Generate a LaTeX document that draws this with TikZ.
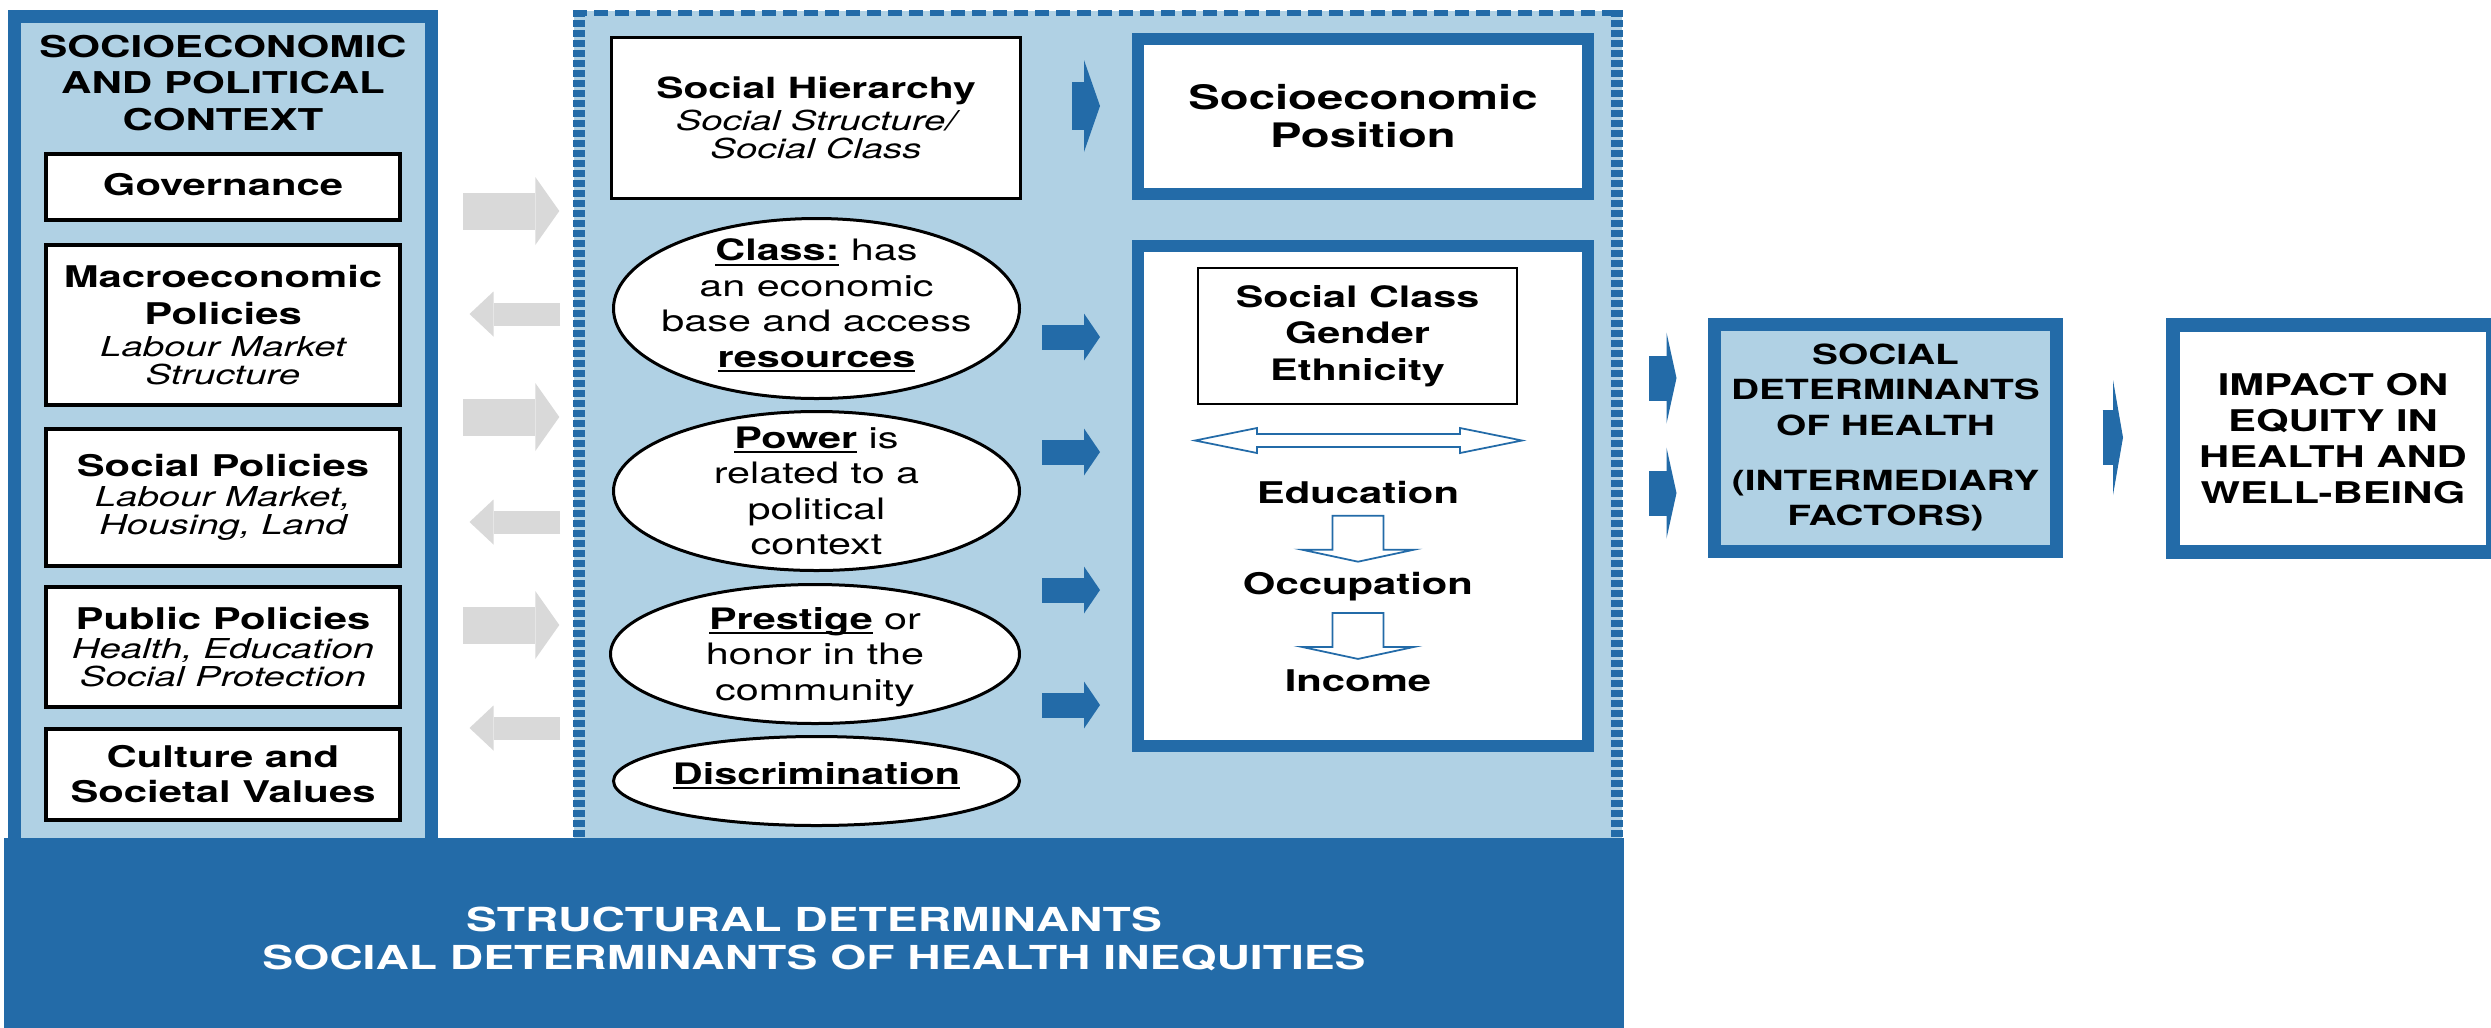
\documentclass[tikz,border=0pt]{standalone}
\usepackage{fontspec}
\setmainfont[FakeStretch=1.4]{TeX Gyre Heros}
\usetikzlibrary{shapes,arrows.meta,positioning,calc}

\definecolor{sdblue}{RGB}{35,107,168}
\definecolor{sdlight}{RGB}{176,209,228}
\definecolor{sdgray}{RGB}{217,217,217}

% italic second lines and underlined key words
\newcommand{\itx}[1]{{\fontsize{7.8}{8}\selectfont\mdseries\itshape #1}}
\newcommand{\undl}[1]{\setbox0=\hbox{\bfseries #1}\rlap{\rule[-1.4pt]{\wd0}{0.6pt}}\box0\relax}

\begin{document}
\begin{tikzpicture}[
    panel/.style={rectangle, draw=sdblue, line width=0.13cm, fill=sdlight, inner sep=0pt},
    ctxbox/.style={rectangle, draw=black, line width=0.04cm, fill=white,
                   minimum width=3.54cm, align=center, inner sep=0pt,
                   font=\fontsize{8.5}{10.4}\selectfont\bfseries},
    posbox/.style={rectangle, draw=sdblue, line width=0.12cm, fill=white,
                   align=center, inner sep=0pt},
    oval/.style={ellipse, draw=black, line width=0.03cm, fill=white,
                 minimum width=4.06cm, inner sep=0pt},
    ovaltext/.style={align=center, inner sep=0pt, font=\fontsize{8.4}{10.1}\selectfont},
    stepline/.style={anchor=base, font=\fontsize{8.5}{10}\selectfont\bfseries},
    vdash/.style={draw=sdblue, line width=0.12cm, dash pattern=on 0.07cm off 0.03cm},
    hdash/.style={draw=sdblue, line width=0.06cm, dash pattern=on 0.14cm off 0.07cm},
    hollow/.style={draw=sdblue, line width=0.5pt, fill=white},
    grayR/.style={sdgray, line width=0.37cm,
                  -{Triangle[length=0.24cm, width=0.68cm, line width=0pt]}, shorten >=0.14cm},
    grayL/.style={sdgray, line width=0.23cm,
                  -{Triangle[length=0.24cm, width=0.45cm, line width=0pt]}, shorten >=0.315cm},
    bluearr/.style={sdblue, line width=0.25cm,
                    -{Triangle[length=0.16cm, width=0.47cm, line width=0pt]}, shorten >=0.32cm},
    finarr/.style={sdblue, line width=0.48cm,
                   -{Triangle[length=0.16cm, width=0.92cm, line width=0pt]}, shorten >=0.32cm},
    intarr/.style={sdblue, line width=0.45cm,
                   -{Triangle[length=0.10cm, width=0.91cm, line width=0pt]}, shorten >=0.315cm},
    imparr/.style={sdblue, line width=0.55cm,
                   -{Triangle[length=0.10cm, width=1.15cm, line width=0pt]},
                   shorten <=0.395cm, shorten >=0.43cm}
]

\useasboundingbox (0,0) rectangle (24.91,-10.27);
\fill[white] (0,0) rectangle (24.91,-10.27);

% Context column
\node[panel, minimum width=4.17cm, minimum height=8.40cm] (ctx) at (2.23,-4.365) {};

% Structural panel, dotted frame
\node[rectangle, fill=sdlight, minimum width=10.48cm, minimum height=8.27cm, inner sep=0pt] (mid) at (10.98,-4.245) {};
\draw[vdash] ([xshift=0.06cm]mid.north west) -- ([xshift=0.06cm]mid.south west);
\draw[vdash] ([xshift=-0.06cm]mid.north east) -- ([xshift=-0.06cm]mid.south east);
\draw[hdash] ([yshift=-0.03cm]mid.north west) -- ([yshift=-0.03cm]mid.north east);

% Bottom band
\node[rectangle, fill=sdblue, minimum width=16.20cm, minimum height=2.02cm, inner sep=0pt,
      text=white, align=center, font=\fontsize{9.4}{10.8}\selectfont\bfseries] (band) at (8.14,-9.39)
      {STRUCTURAL DETERMINANTS\\SOCIAL DETERMINANTS OF HEALTH INEQUITIES};

% Context items
\node[align=center, inner sep=0pt, font=\fontsize{8.55}{10.3}\selectfont\bfseries] (ctxtitle) at (2.23,-0.83)
      {SOCIOECONOMIC\\AND POLITICAL\\CONTEXT};
\node[ctxbox, minimum height=0.66cm] (gov) at (2.23,-1.87) {\raisebox{0.05cm}{Governance}};
\node[ctxbox, minimum height=1.60cm] (macro) at (2.23,-3.25)
      {Macroeconomic\\Policies\\[-1.3pt]\itx{Labour Market}\\[-2.4pt]\itx{Structure}};
\node[ctxbox, minimum height=1.37cm] (socpol) at (2.23,-4.975)
      {Social Policies\\[-1.9pt]\itx{Labour Market,}\\[-2.4pt]\itx{Housing, Land}};
\node[ctxbox, minimum height=1.20cm] (pubpol) at (2.23,-6.47)
      {Public Policies\\[-2.2pt]\itx{Health, Education}\\[-2.4pt]\itx{Social Protection}};
\node[ctxbox, minimum height=0.91cm] (culture) at (2.23,-7.745)
      {Culture and\\[-0.4pt]Societal Values};

% Hierarchy and its dimensions
\node[rectangle, draw=black, line width=0.03cm, fill=white, minimum width=4.09cm, minimum height=1.61cm,
      align=center, inner sep=0pt, font=\fontsize{8.3}{10.4}\selectfont\bfseries] (hier) at (8.16,-1.18)
      {Social Hierarchy\\[-1.3pt]\itx{Social Structure/}\\[-2.4pt]\itx{Social Class}};

\node[oval, minimum height=1.80cm] (cls) at (8.165,-3.085) {};
\node[ovaltext] (clstxt) at ([yshift=0.03cm]cls) {\undl{Class:} has\\an economic\\base and access\\\undl{resources}};
\node[oval, minimum height=1.59cm] (pow) at (8.165,-4.91) {};
\node[ovaltext] (powtxt) at (pow) {\undl{Power} is\\related to a\\political\\context};
\node[oval, minimum width=4.09cm, minimum height=1.39cm] (pres) at (8.15,-6.54) {};
\node[ovaltext] (prestxt) at ([yshift=-0.03cm]pres) {\undl{Prestige} or\\honor in the\\community};
\node[oval, minimum height=0.89cm] (disc) at (8.165,-7.81) {};
\node[ovaltext] (disctxt) at ([yshift=0.05cm]disc) {\undl{Discrimination}};

% Position boxes
\node[posbox, minimum width=4.50cm, minimum height=1.55cm,
      font=\fontsize{9.6}{10.8}\selectfont\bfseries] (sep) at (13.63,-1.165) {Socioeconomic\\Position};
\node[posbox, minimum width=4.50cm, minimum height=5.00cm] (ses) at (13.63,-4.96) {};
\node[rectangle, draw=black, line width=0.02cm, fill=white, minimum width=3.19cm, minimum height=1.36cm,
      align=center, inner sep=0pt, font=\fontsize{8.4}{10.4}\selectfont\bfseries] (cge) at (13.575,-3.36)
      {Social Class\\Gender\\Ethnicity};
\node[stepline] (edu) at (13.58,-5.03) {Education};
\node[stepline] (occ) at (13.58,-5.94) {Occupation};
\node[stepline] (inc) at (13.58,-6.91) {Income};

% Hollow arrows inside the position box
\coordinate (lr) at (11.95,-4.405);
\draw[hollow] (lr) -- ++(0.62,0.125) -- ++(0,-0.06) -- ++(2.03,0) -- ++(0,0.06) -- ++(0.62,-0.125)
      -- ++(-0.62,-0.125) -- ++(0,0.06) -- ++(-2.03,0) -- ++(0,-0.06) -- cycle;
\draw[hollow] ([xshift=-0.255cm]edu.south) -- ++(0,-0.34) -- ++(-0.305,0) -- ++(0.56,-0.12)
      -- ++(0.56,0.12) -- ++(-0.305,0) -- ++(0,0.34) -- cycle;
\draw[hollow] ([xshift=-0.255cm]occ.south) -- ++(0,-0.34) -- ++(-0.305,0) -- ++(0.56,-0.12)
      -- ++(0.56,0.12) -- ++(-0.305,0) -- ++(0,0.34) -- cycle;

% Intermediary and impact
\node[posbox, line width=0.13cm, fill=sdlight, minimum width=3.42cm, minimum height=2.27cm,
      font=\fontsize{7.9}{10.1}\selectfont\bfseries] (int) at (18.855,-4.375)
      {SOCIAL\\DETERMINANTS\\OF HEALTH\\[5.5pt](INTERMEDIARY\\FACTORS)};
\node[posbox, line width=0.14cm, minimum width=3.20cm, minimum height=2.27cm,
      font=\fontsize{8.5}{10.3}\selectfont\bfseries] (imp) at (23.33,-4.385)
      {IMPACT ON\\EQUITY IN\\HEALTH AND\\WELL-BEING};

% Grey arrows between context and structure
\coordinate (g1) at (4.63,-2.11);
\coordinate (g2) at (5.60,-3.14);
\coordinate (g3) at (4.63,-4.17);
\coordinate (g4) at (5.60,-5.22);
\coordinate (g5) at (4.63,-6.25);
\coordinate (g6) at (5.60,-7.28);
\draw[grayR] (g1) -- (g1 -| mid.west);
\draw[grayL] (g2) -- (g2 -| ctx.east);
\draw[grayR] (g3) -- (g3 -| mid.west);
\draw[grayL] (g4) -- (g4 -| ctx.east);
\draw[grayR] (g5) -- (g5 -| mid.west);
\draw[grayL] (g6) -- (g6 -| ctx.east);

% Blue arrows
\coordinate (f1) at (10.72,-1.06);
\draw[finarr] (f1) -- (f1 -| sep.west);

\coordinate (b1) at (10.42,-3.37);
\coordinate (b2) at (10.42,-4.52);
\coordinate (b3) at (10.42,-5.90);
\coordinate (b4) at (10.42,-7.05);
\draw[bluearr] (b1) -- (b1 -| ses.west);
\draw[bluearr] (b2) -- (b2 -| ses.west);
\draw[bluearr] (b3) -- (b3 -| ses.west);
\draw[bluearr] (b4) -- (b4 -| ses.west);

\coordinate (i1) at (16.49,-3.78);
\coordinate (i2) at (16.49,-4.93);
\draw[intarr] (i1) -- (i1 -| int.west);
\draw[intarr] (i2) -- (i2 -| int.west);

\draw[imparr] (int.east) -- (int.east -| imp.west);

\end{tikzpicture}
\end{document}
